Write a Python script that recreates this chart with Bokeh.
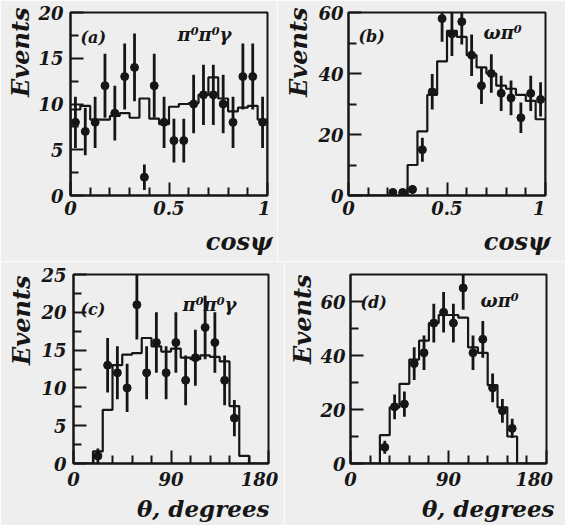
from bokeh.plotting import figure
from bokeh.models import Range1d, FixedTicker, Label, Title
from bokeh.layouts import column, row
from bokeh.embed import file_html
from bokeh.resources import INLINE

# ---------------- data ----------------
cos_edges = [0.00, 0.05, 0.10, 0.15, 0.20, 0.25, 0.30, 0.35, 0.40, 0.45, 0.50,
             0.55, 0.60, 0.65, 0.70, 0.75, 0.80, 0.85, 0.90, 0.95, 1.00]
theta_edges = [0, 9, 18, 27, 36, 45, 54, 63, 72, 81, 90,
               99, 108, 117, 126, 135, 144, 153, 162, 171, 180]

# (a) pi0 pi0 gamma, cos(psi)
a_x = [0.025, 0.075, 0.125, 0.175, 0.225, 0.275, 0.325, 0.375, 0.425, 0.475,
       0.525, 0.575, 0.625, 0.675, 0.725, 0.775, 0.825, 0.875, 0.925, 0.975]
a_counts = [8, 7, 8, 12, 9, 13, 14, 2, 12, 8, 6, 6, 10, 11, 11, 10, 8, 13, 13, 8]
a_errors = [2.8, 2.6, 2.8, 3.5, 3.0, 3.6, 3.7, 1.4, 3.5, 2.8,
            2.4, 2.4, 3.2, 3.3, 3.3, 3.2, 2.8, 3.6, 3.6, 2.8]
a_mc = [9.4, 9.8, 8.3, 8.3, 8.7, 9.0, 8.5, 10.6, 8.4, 7.8,
        9.7, 10.0, 10.1, 11.0, 12.9, 10.6, 9.2, 9.6, 9.8, 8.3]

# (b) omega pi0, cos(psi)
b_x = [0.225, 0.275, 0.325, 0.375, 0.425, 0.475, 0.525, 0.575, 0.625, 0.675,
       0.725, 0.775, 0.825, 0.875, 0.925, 0.975]
b_counts = [1, 1, 2, 15, 34, 58, 53, 57, 46, 36, 40, 33.5, 32, 25.5, 33.5, 31.5]
b_errors = [1.0, 1.0, 1.4, 3.9, 5.8, 7.6, 7.3, 7.5, 6.8, 6.0, 6.3, 5.8, 5.7, 5.0, 5.8, 5.6]
b_mc = [0, 0, 0, 0, 0, 0, 10, 21, 33, 44, 54, 52, 46, 42, 40, 36, 35, 33, 31, 25]

# (c) pi0 pi0 gamma, theta
c_x = [22.5, 31.5, 40.5, 49.5, 58.5, 67.5, 76.5, 85.5, 94.5, 103.5,
       112.5, 121.5, 130.5, 139.5, 148.5]
c_counts = [1, 13, 12, 10, 21, 12, 16, 12, 16, 11, 14, 18, 16, 11, 6]
c_errors = [1.0, 3.6, 3.5, 3.2, 4.6, 3.5, 4.0, 3.5, 4.0, 3.3, 3.7, 4.2, 4.0, 3.3, 2.4]
c_mc = [0, 0, 1.6, 7.1, 13.0, 14.4, 14.6, 16.6, 15.5, 14.8,
        15.2, 14.0, 13.8, 14.3, 14.1, 13.5, 7.6, 1.0, 0, 0]

# (d) omega pi0, theta
d_x = [31.5, 40.5, 49.5, 58.5, 67.5, 76.5, 85.5, 94.5, 103.5, 112.5,
       121.5, 130.5, 139.5, 148.5]
d_counts = [6, 21, 22, 37, 41, 52, 56, 52, 65, 41, 46, 28, 19.5, 13]
d_errors = [2.4, 4.6, 4.7, 6.1, 6.4, 7.2, 7.5, 7.2, 8.1, 6.4, 6.8, 5.3, 4.4, 3.6]
d_mc = [0, 0, 0, 10.5, 20.8, 29.5, 38.5, 45.5, 52, 55,
        55, 54, 43, 41, 29, 20.8, 10, 0, 0, 0]

# ticks
cos_major = [0, 0.5, 1]
cos_minor = [0.1, 0.2, 0.3, 0.4, 0.6, 0.7, 0.8, 0.9]
theta_major = [0, 90, 180]
theta_minor = [18, 36, 54, 72, 108, 126, 144, 162]
a_ymajor = [0, 5, 10, 15, 20]
a_yminor = [2.5, 7.5, 12.5, 17.5]
b_ymajor = [0, 20, 40, 60]
b_yminor = [10, 30, 50]
c_ymajor = [0, 5, 10, 15, 20, 25]
c_yminor = [2.5, 7.5, 12.5, 17.5, 22.5]
d_ymajor = [0, 20, 40, 60]
d_yminor = [10, 30, 50]

# ---------------- style ----------------
INK = "#161616"
BG = "#eeeeee"
FONT = "DejaVu Serif"
NB = "\u00a0"


def make_panel(page_left, page_top, W, H, bl, br, bt, bb, xr, yr,
               xmaj, xmin, ymaj, ymin, x_standoff, y_standoff, x_overrides=None):
    p = figure(width=W, height=H, x_range=Range1d(*xr), y_range=Range1d(*yr),
               output_backend="svg", toolbar_location=None,
               min_border_left=bl, min_border_right=br,
               min_border_top=bt, min_border_bottom=bb,
               background_fill_color=BG, border_fill_color=BG)
    p.outline_line_color = INK
    p.outline_line_width = 2
    p.xgrid.visible = False
    p.ygrid.visible = False
    p.xaxis.ticker = FixedTicker(ticks=xmaj, minor_ticks=xmin)
    p.yaxis.ticker = FixedTicker(ticks=ymaj, minor_ticks=ymin)
    for ax in (p.xaxis[0], p.yaxis[0]):
        ax.axis_line_color = INK
        ax.axis_line_width = 2
        ax.major_tick_in = 13
        ax.major_tick_out = 0
        ax.minor_tick_in = 8
        ax.minor_tick_out = 0
        ax.major_tick_line_color = INK
        ax.minor_tick_line_color = INK
        ax.major_tick_line_width = 2
        ax.minor_tick_line_width = 2
        ax.major_label_text_font = FONT
        ax.major_label_text_font_style = "bold italic"
        ax.major_label_text_font_size = "18px"
        ax.major_label_text_color = INK
    p.xaxis.major_label_standoff = x_standoff
    p.yaxis.major_label_standoff = y_standoff
    if x_overrides:
        p.xaxis.major_label_overrides = x_overrides

    FL = page_left + bl
    FT = page_top + bt
    FW = W - bl - br
    FH = H - bt - bb

    def at(px, py):
        return (xr[0] + (px - FL) / FW * (xr[1] - xr[0]),
                yr[1] - (py - FT) / FH * (yr[1] - yr[0]))

    def inner(px, py, s, size):
        x, y = at(px, py)
        p.add_layout(Label(x=x, y=y, text=s, text_font=FONT,
                           text_font_style="bold italic", text_font_size=size,
                           text_color=INK, text_align="left",
                           text_baseline="alphabetic"))
    return p, inner


def side_title(p, s, side, size, offset, standoff):
    p.add_layout(Title(text=s, align="right", offset=offset, standoff=standoff,
                       text_font=FONT, text_font_style="bold italic",
                       text_font_size=size, text_color=INK), side)


def hist_outline(p, edges, vals):
    xs, ys = [edges[0]], [0]
    for i, v in enumerate(vals):
        xs += [edges[i], edges[i + 1]]
        ys += [v, v]
    xs.append(edges[-1])
    ys.append(0)
    p.line(xs, ys, line_color=INK, line_width=2.2)


def data_points(p, xs, ys, es):
    p.segment(x0=xs, y0=[y - e for y, e in zip(ys, es)],
              x1=xs, y1=[y + e for y, e in zip(ys, es)],
              line_color=INK, line_width=2.8)
    p.scatter(xs, ys, marker="circle", size=8, fill_color=INK, line_color=INK)


# ---------------- panels (page origin = top-left of the layout) ----------------
pa, la = make_panel(0, 0, 277, 261, 70, 10, 12, 66, (0, 1), (0, 20),
                    cos_major, cos_minor, a_ymajor, a_yminor, 2, 7,
                    x_overrides={1: "1" + NB})
hist_outline(pa, cos_edges, a_mc)
data_points(pa, a_x, a_counts, a_errors)
side_title(pa, "Events", "left", "24px", -5, 2)
side_title(pa, "cosψ", "below", "24px", -5, 7)
la(80, 37, "(a)", "16px")
la(177, 34, "π⁰π⁰γ", "18px")

pb, lb = make_panel(277, 0, 288, 261, 71, 20, 12, 66, (0, 1), (0, 60),
                    cos_major, cos_minor, b_ymajor, b_yminor, 2, 5,
                    x_overrides={1: "1" + NB + NB})
hist_outline(pb, cos_edges, b_mc)
data_points(pb, b_x, b_counts, b_errors)
side_title(pb, "Events", "left", "24px", -5, 6)
side_title(pb, "cosψ", "below", "24px", -5, 7)
lb(358, 36, "(b)", "16px")
lb(483, 32, "ωπ⁰", "18px")

pc, lc = make_panel(0, 261, 284, 264, 73, 16, 13, 62, (0, 180), (0, 25),
                    theta_major, theta_minor, c_ymajor, c_yminor, 5, 7,
                    x_overrides={180: "180" + NB})
hist_outline(pc, theta_edges, c_mc)
data_points(pc, c_x, c_counts, c_errors)
side_title(pc, "Events", "left", "24px", 1, 6)
side_title(pc, "θ, degrees", "below", "23px", -1, 0)
lc(80, 309, "(c)", "16px")
lc(182, 304, "π⁰π⁰γ", "18px")

pd, ld = make_panel(284, 261, 281, 264, 66, 19, 13, 62, (0, 180), (0, 70),
                    theta_major, theta_minor, d_ymajor, d_yminor, 5, 5,
                    x_overrides={180: "180" + NB + NB})
hist_outline(pd, theta_edges, d_mc)
data_points(pd, d_x, d_counts, d_errors)
side_title(pd, "Events", "left", "24px", 0, 1)
side_title(pd, "θ, degrees", "below", "23px", -8, 0)
ld(360, 302, "(d)", "16px")
ld(480, 300, "ωπ⁰", "18px")

layout = column(row(pa, pb), row(pc, pd))
open("out.html", "w").write(file_html(layout, INLINE))
